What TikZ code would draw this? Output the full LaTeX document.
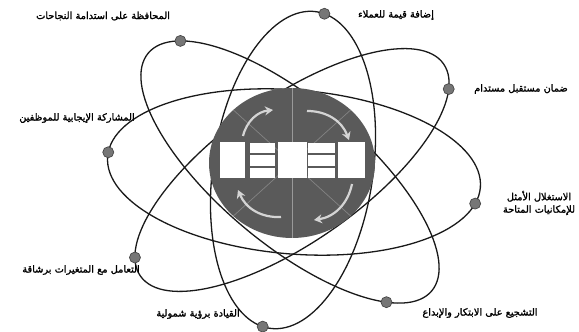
\documentclass[tikz,border=0pt]{standalone}
\usepackage{fontspec}
\newfontfamily\arabicfont[Script=Arabic, FakeBold=1.6]{DejaVu Sans}
\TeXXeTstate=1
\usetikzlibrary{arrows.meta,shapes.geometric}
\definecolor{orbitdark}{RGB}{25,25,25}
\definecolor{coregray}{RGB}{90,90,90}
\definecolor{dotgray}{RGB}{118,118,118}
\definecolor{spinpale}{RGB}{212,212,212}
\newcommand{\ar}[1]{{\arabicfont\beginR #1\endR}}

\begin{document}
\begin{tikzpicture}[x=1pt, y=1pt,
  every node/.style={font=\fontsize{9.8}{12.5}\selectfont},
  orbit/.style={draw=orbitdark, line width=1.3pt},
  dot/.style={circle, fill=dotgray, draw=dotgray!60!black, line width=0.7pt, minimum size=11pt, inner sep=0pt},
  blk/.style={fill=white, inner sep=0pt, minimum height=36pt},
  bar/.style={fill=white, inner sep=0pt, minimum height=10.8pt},
  spin/.style={-{Stealth[length=8pt,width=9pt]}, draw=spinpale, line width=2.2pt, bend left=35}
]
  \useasboundingbox (0,0) rectangle (579,332);

  % orbits with their dots
  \begin{scope}[shift={(294,160)}, rotate=-4.75]
    \draw[orbit] (0,0) ellipse [x radius=187pt, y radius=82pt];
    \node[dot] (d4) at (177:187pt and 82pt) {};
    \node[dot] (d5) at (-11.6:187pt and 82pt) {};
  \end{scope}
  \begin{scope}[shift={(293,162)}, rotate=81.6]
    \draw[orbit] (0,0) ellipse [x radius=160pt, y radius=80pt];
    \node[dot] (d2) at (-5.9:160pt and 80pt) {};
    \node[dot] (d7) at (174.9:160pt and 80pt) {};
  \end{scope}
  \begin{scope}[shift={(290,160)}, rotate=-40]
    \draw[orbit] (0,0) ellipse [x radius=185pt, y radius=72pt];
    \node[dot] (d1) at (155.4:185pt and 72pt) {};
    \node[dot] (d8) at (-31.6:185pt and 72pt) {};
  \end{scope}
  \begin{scope}[shift={(292,162)}, rotate=35]
    \draw[orbit] (0,0) ellipse [x radius=185pt, y radius=72pt];
    \node[dot] (d3) at (-19.1:185pt and 72pt) {};
    \node[dot] (d6) at (165.2:185pt and 72pt) {};
  \end{scope}

  % core
  \node[ellipse, fill=coregray, minimum width=166pt, minimum height=150pt, inner sep=0pt] (core) at (292,169) {};
  \draw[gray!80, line width=1pt] (core.north) -- (core.south);
  \draw[coregray!75!white, line width=0.7pt] (core.north west) -- (core.south east);
  \draw[coregray!75!white, line width=0.7pt] (core.north east) -- (core.south west);

  \node[blk, minimum width=25pt] (b1) at (232.5,171.5) {};
  \node[bar, minimum width=25pt] (b2a) at (262.5,184) {};
  \node[bar, minimum width=25pt] (b2b) at (262.5,171.5) {};
  \node[bar, minimum width=25pt] (b2c) at (262.5,159) {};
  \node[blk, minimum width=29pt] (b3) at (292.5,171.5) {};
  \node[bar, minimum width=27pt] (b4a) at (321.5,184) {};
  \node[bar, minimum width=27pt] (b4b) at (321.5,171.5) {};
  \node[bar, minimum width=27pt] (b4c) at (321.5,159) {};
  \node[blk, minimum width=27pt] (b5) at (351.5,171.5) {};

  \coordinate (s1) at (243,196); \coordinate (e1) at (273,222);
  \coordinate (s2) at (307,221); \coordinate (e2) at (349,192);
  \coordinate (s3) at (352,148); \coordinate (e3) at (314,112);
  \coordinate (s4) at (281,115); \coordinate (e4) at (238,142);
  \draw[spin] (s1) to (e1);
  \draw[spin] (s2) to (e2);
  \draw[spin] (s3) to (e3);
  \draw[spin] (s4) to (e4);

  % labels
  \node (t1) at (103,316) {\ar{المحافظة على استدامة النجاحات}};
  \node (t2) at (396,317) {\ar{إضافة قيمة للعملاء}};
  \node (t3) at (521,243) {\ar{ضمان مستقبل مستدام}};
  \node (t4) at (77,214) {\ar{المشاركة الإيجابية للموظفين}};
  \node[align=center] (t5) at (539,129) {\ar{الاستغلال الأمثل}\\\ar{للإمكانيات المتاحة}};
  \node (t6) at (81,62) {\ar{التعامل مع المتغيرات برشاقة}};
  \node (t7) at (198,18) {\ar{القيادة برؤية شمولية}};
  \node (t8) at (480,19) {\ar{التشجيع على الابتكار والإبداع}};
\end{tikzpicture}
\end{document}
